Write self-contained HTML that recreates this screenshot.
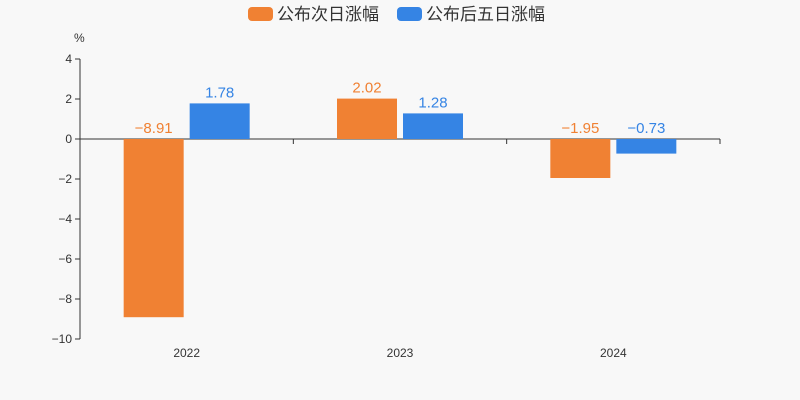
<!DOCTYPE html>
<html><head><meta charset="utf-8"><style>
body{margin:0;background:#f8f8f8;}
svg{display:block;font-family:"Liberation Sans","Noto Sans CJK SC",sans-serif;}
</style></head><body>
<svg id="chart" width="800" height="400">
<rect width="800" height="400" fill="#f8f8f8"/>
<g>
<g><rect x="248" y="7" width="25" height="14" rx="4" fill="#f08133"/><text x="277" y="20" font-size="17" fill="#333">公布次日涨幅</text></g>
<g><rect x="397" y="7" width="25" height="14" rx="4" fill="#3584e4"/><text x="426" y="20" font-size="17" fill="#333">公布后五日涨幅</text></g>
</g>
<text x="74" y="42" font-size="12" fill="#333">%</text>
<g id="axes"></g>
<g id="bars"></g>
</svg>
<script>
const categories=["2022","2023","2024"];
const nextDay=[-8.91,2.02,-1.95];
const fiveDay=[1.78,1.28,-0.73];
const yTicks=[4,2,0,-2,-4,-6,-8,-10];
const NS="http://www.w3.org/2000/svg";
const x0=80,x1=720,yMin=-10,yMax=4,yTop=59,yBot=339;
const y=v=>yTop+(yMax-v)/(yMax-yMin)*(yBot-yTop);
const cw=(x1-x0)/categories.length;
const cx=i=>x0+cw*(i+0.5);
function mk(t,a,p){const e=document.createElementNS(NS,t);for(const k in a)e.setAttribute(k,a[k]);p.appendChild(e);return e;}
const ax=document.getElementById('axes'),bg=document.getElementById('bars');
const yl=mk('line',{x1:x0,x2:x0,y1:yTop,y2:yBot,stroke:'#333'},ax);


yTicks.forEach(v=>{
 const t=mk('text',{x:x0-8,y:y(v)+4,'text-anchor':'end','font-size':12,fill:'#333'},ax);
 t.textContent=v<0?'\u2212'+Math.abs(v):v;
 
 
 const tk=mk('line',{x1:x0-5,x2:x0,y1:y(v),y2:y(v),stroke:'#333'},ax);
 
 
});
const xl=mk('line',{x1:x0,x2:x1,y1:y(0),y2:y(0),stroke:'#333'},ax);


for(let i=0;i<=categories.length;i++){
 const tk=mk('line',{x1:x0+cw*i,x2:x0+cw*i,y1:y(0),y2:y(0)+5,stroke:'#333'},ax);
 
 
}
categories.forEach((c,i)=>{
 const t=mk('text',{x:cx(i),y:357,'text-anchor':'middle','font-size':12,fill:'#333'},ax);
 t.textContent=c;
 
 
 [[nextDay,'#f08133',-63,'next-day'],[fiveDay,'#3584e4',3,'five-day']].forEach(([arr,col,off,nm])=>{
  const v=arr[i];
  const r=mk('rect',{x:cx(i)+off,width:60,y:Math.min(y(v),y(0)),height:Math.abs(y(v)-y(0)),fill:col},bg);
  
  
  const lt=mk('text',{x:cx(i)+off+30,y:(v>=0?y(v):y(0))-6,'text-anchor':'middle','font-size':15,fill:col},bg);
  lt.textContent=v<0?'\u2212'+Math.abs(v).toFixed(2):v.toFixed(2);
  
  
 });
});
</script>
</body></html>
